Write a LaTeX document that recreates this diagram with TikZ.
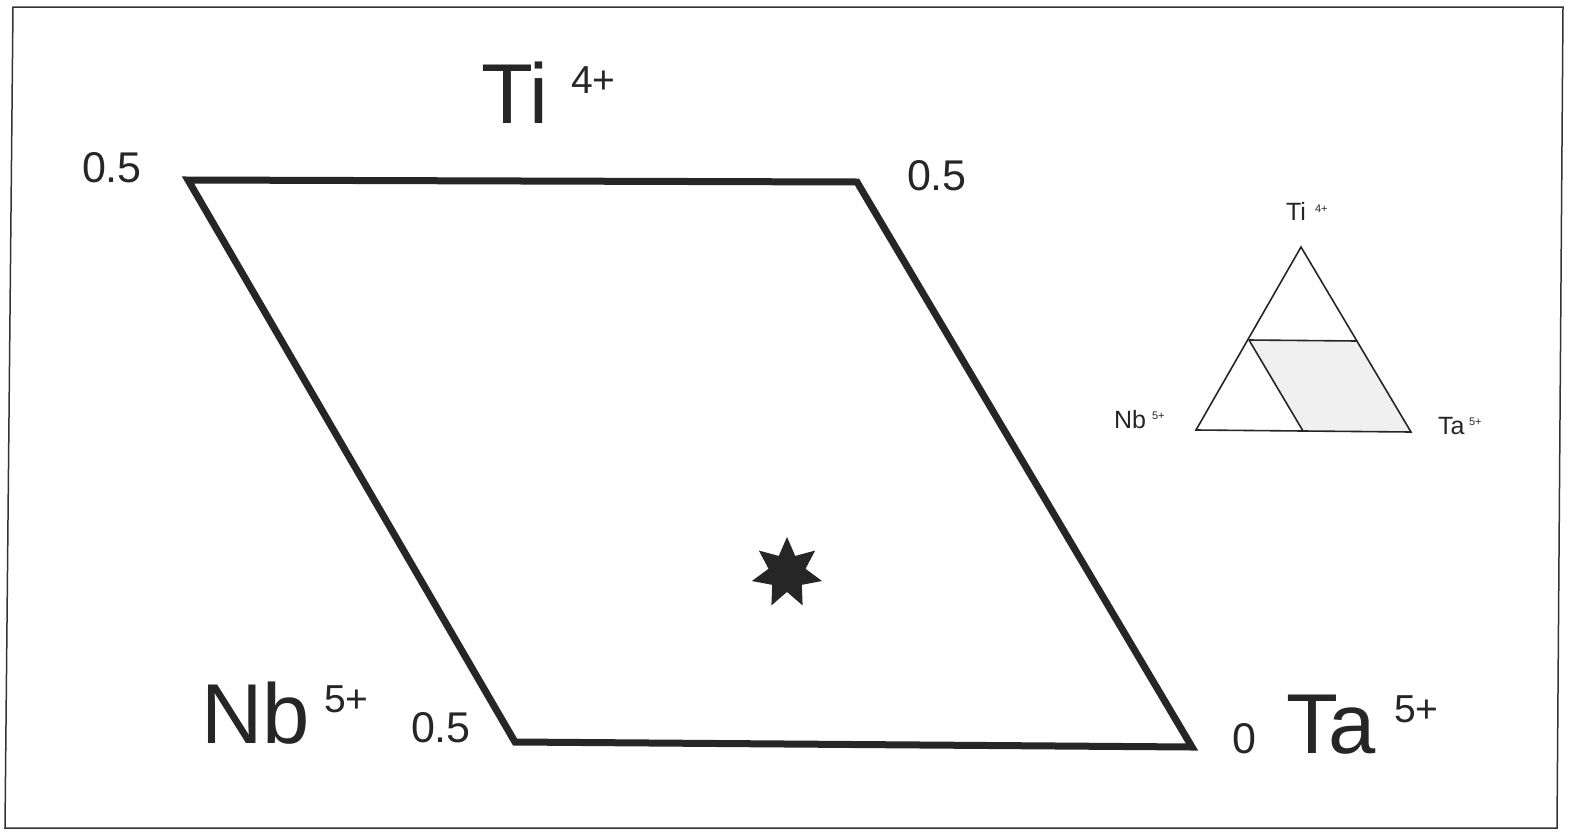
\documentclass[tikz,border=0pt]{standalone}
\usepackage{fontspec}
\setmainfont{Liberation Sans}
\usetikzlibrary{shapes.geometric}
\begin{document}
\begin{tikzpicture}[x=1pt,y=-1pt,
  lbl/.style={inner sep=0pt, outer sep=0pt, anchor=base west, text=black!85},
  frameline/.style={line width=1.5pt, draw=black!80},
  field/.style={line width=7pt, draw=black!85, line join=miter},
  insetline/.style={line width=1.6pt, draw=black!85},
  big/.style={font=\fontsize{85}{90}\selectfont},
  sup/.style={font=\fontsize{39}{44}\selectfont},
  num/.style={font=\fontsize{43}{48}\selectfont},
  small/.style={font=\fontsize{25}{28}\selectfont},
  tiny/.style={font=\fontsize{11}{12}\selectfont}]
\useasboundingbox (0,0) rectangle (1572,836);
% outer frame
\coordinate (f1) at (13,7);
\coordinate (f2) at (1563,7);
\coordinate (f3) at (1557,828);
\coordinate (f4) at (5,828);
\draw[frameline] (f1) -- (f2) -- (f3) -- (f4) -- cycle;
% main field
\coordinate (P1) at (188,180);
\coordinate (P2) at (857,182);
\coordinate (P3) at (1192,747);
\coordinate (P4) at (515,742);
\draw[field] (P1) -- (P2) -- (P3) -- (P4) -- cycle;
% star
\node[star, star points=7, star point ratio=1.9, fill=black!85, inner sep=0pt, minimum size=72pt] (star) at (787,573) {};
% main labels
\node[lbl, big] (ti) at (481,123) {Ti};
\node[lbl, sup] (tisup) at (571,93) {4+};
\node[lbl, big] (nb) at (201,743) {Nb};
\node[lbl, sup] (nbsup) at (324,712) {5+};
\node[lbl, big] (ta) at (1286,753) {Ta};
\node[lbl, sup] (tasup) at (1394,722) {5+};
\node[lbl, num] (n1) at (82,182) {0.5};
\node[lbl, num] (n2) at (907,190) {0.5};
\node[lbl, num] (n3) at (411,742) {0.5};
\node[lbl, num] (n4) at (1232,753) {0};
% inset triangle
\coordinate (A) at (1301,247);
\coordinate (B) at (1196,430);
\coordinate (C) at (1411,432);
\coordinate (D) at (1249,340);
\coordinate (E) at (1357,341);
\coordinate (F) at (1303,431);
\fill[black!6] (D) -- (E) -- (C) -- (F) -- cycle;
\draw[insetline, line join=miter] (A) -- (B) -- (C) -- cycle;
\draw[insetline] (D) -- (E);
\draw[insetline] (D) -- (F);
\node[lbl, small] (iti) at (1286,220) {Ti};
\node[lbl, tiny] (itisup) at (1315,212) {4+};
\node[lbl, small] (inb) at (1114,428) {Nb};
\node[lbl, tiny] (inbsup) at (1152,419) {5+};
\node[lbl, small] (ita) at (1438,434) {Ta};
\node[lbl, tiny] (itasup) at (1469,425) {5+};
\end{tikzpicture}
\end{document}
